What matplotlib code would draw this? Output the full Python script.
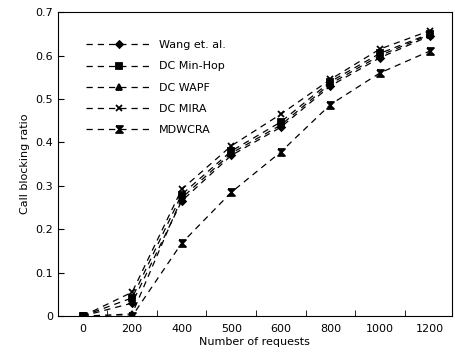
import matplotlib
matplotlib.use("Agg")
import matplotlib.pyplot as plt
import numpy as np

# Blocking ratio versus number of requests for five routing schemes
requests = ["0", "200", "400", "500", "600", "800", "1000", "1200"]
wang = [0.0, 0.030, 0.265, 0.370, 0.435, 0.530, 0.595, 0.645]
min_hop = [0.0, 0.042, 0.280, 0.380, 0.447, 0.540, 0.605, 0.650]
wapf = [0.0, 0.005, 0.272, 0.375, 0.440, 0.535, 0.600, 0.648]
mira = [0.0, 0.055, 0.292, 0.392, 0.465, 0.545, 0.615, 0.657]
mdwcra = [0.0, 0.0, 0.168, 0.285, 0.378, 0.487, 0.560, 0.610]

hourglass = [(-1, 1), (1, 1), (-1, -1), (1, -1), (-1, 1)]

series = [
    ("Wang et. al.", wang, "D", 3.5),
    ("DC Min-Hop", min_hop, "s", 4),
    ("DC WAPF", wapf, "^", 4),
    ("DC MIRA", mira, "x", 5),
    ("MDWCRA", mdwcra, hourglass, 5),
]

fig = plt.figure(figsize=(4.55, 3.56), dpi=100)
ax = fig.add_axes([0.127, 0.112, 0.866, 0.854])

x = np.arange(len(requests))
for name, vals, mk, ms in series:
    ax.plot(x, vals, linestyle=(0, (5, 4)), color="black", linewidth=0.9,
            marker=mk, markersize=ms, markeredgewidth=1.3,
            markerfacecolor="black", markeredgecolor="black", label=name)

ax.set_xlim(-0.5, 7.45)
ax.set_ylim(0, 0.7)
ax.set_xticks(x)
ax.set_xticklabels(requests)
ax.set_xticks(np.arange(0.5, 7, 1), minor=True)
ax.tick_params(axis="x", which="major", length=0, labelsize=8, pad=6)
ax.tick_params(axis="x", which="minor", direction="in", length=4)
ax.set_yticks(np.arange(0, 0.71, 0.1))
ax.set_yticklabels(["0", "0.1", "0.2", "0.3", "0.4", "0.5", "0.6", "0.7"])
ax.tick_params(axis="y", direction="in", length=4, labelsize=8)
ax.set_xlabel("Number of requests", fontsize=8, labelpad=2)
ax.set_ylabel("Call blocking ratio", fontsize=8)

ax.legend(loc="upper left", bbox_to_anchor=(0.045, 0.94), frameon=False,
          fontsize=8, handlelength=6, handletextpad=0.6, labelspacing=1.0)

fig.savefig("out.png", dpi=100)
